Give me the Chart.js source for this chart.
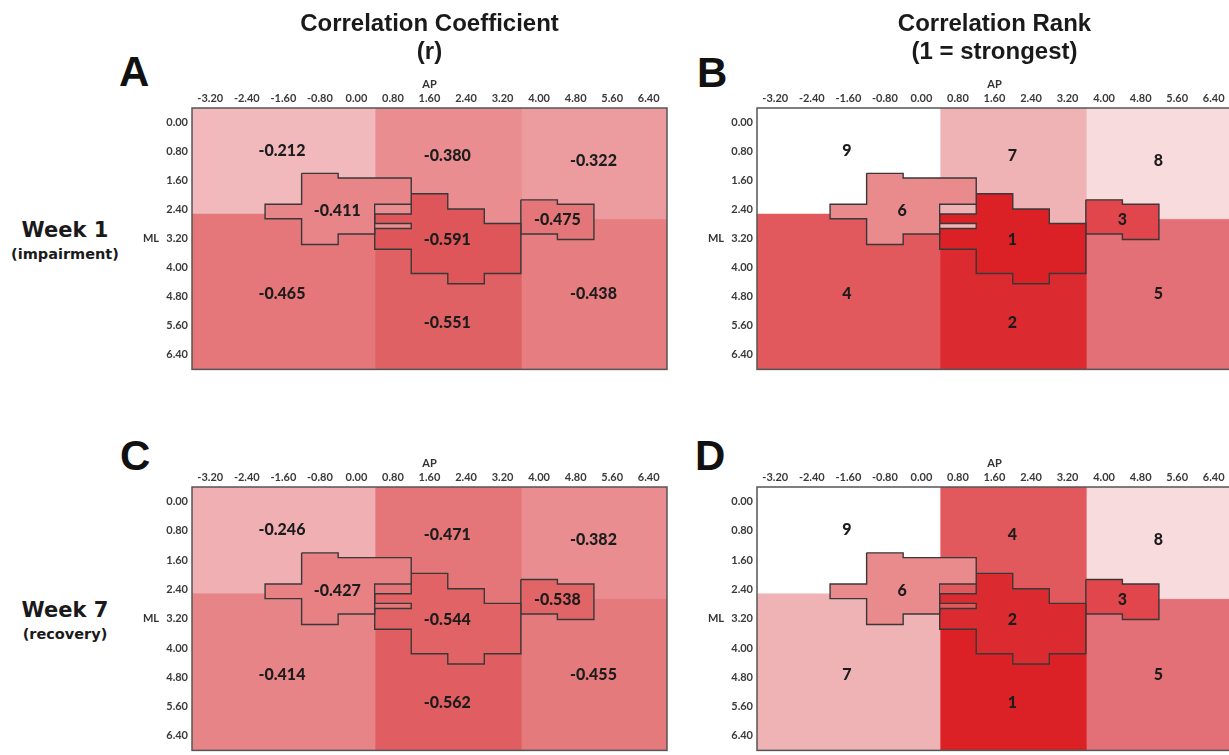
<!DOCTYPE html>
<html>
<head>
<meta charset="utf-8">
<script src="https://cdn.jsdelivr.net/npm/chart.js@4.4.1/dist/chart.umd.min.js"></script>
<style>
  html, body { margin: 0; padding: 0; background: #fff; }
  body { width: 1229px; height: 755px; overflow: hidden; position: relative; }
  canvas { position: absolute; }
  .letter { position: absolute; font: bold 42px "Liberation Sans", Arial, sans-serif; line-height: 42px; color: #111; }
  .row { position: absolute; left: 0; width: 130px; text-align: center; font-family: "DejaVu Sans", sans-serif; font-weight: bold; color: #1a1a1a; }
  .row.big { font-size: 21px; line-height: 21px; }
  .row.small { font-size: 14.5px; line-height: 14.5px; }
</style>
</head>
<body>
<div class="letter" style="left:119px; top:51px">A</div>
<div class="letter" style="left:697px; top:52px">B</div>
<div class="letter" style="left:120px; top:435px">C</div>
<div class="letter" style="left:695px; top:435px">D</div>
<div class="row big" style="top:220px">Week 1</div>
<div class="row small" style="top:247px">(impairment)</div>
<div class="row big" style="top:600px">Week 7</div>
<div class="row small" style="top:627px">(recovery)</div>

<canvas id="panelA" width="535" height="380" style="left:140px; top:0px"></canvas>
<canvas id="panelB" width="535" height="380" style="left:705px; top:0px"></canvas>
<canvas id="panelC" width="535" height="304" style="left:140px; top:457px"></canvas>
<canvas id="panelD" width="535" height="304" style="left:705px; top:457px"></canvas>

<script>
// axis ticks (mm)
const apTicks = [-3.2, -2.4, -1.6, -0.8, 0, 0.8, 1.6, 2.4, 3.2, 4.0, 4.8, 5.6, 6.4];
const mlTicks = [0, 0.8, 1.6, 2.4, 3.2, 4.0, 4.8, 5.6, 6.4];

// regions: 6 background blocks, then the 3 outlined clusters
const regionNames = ["top-left", "top-centre", "top-right", "bottom-left", "bottom-centre", "bottom-right",
  "left cluster", "centre cluster", "right cluster"];

const week1R = [-0.212, -0.380, -0.322, -0.465, -0.551, -0.438, -0.411, -0.591, -0.475];
const week1Rank = [9, 7, 8, 4, 2, 5, 6, 1, 3];
const week7R = [-0.246, -0.471, -0.382, -0.414, -0.562, -0.455, -0.427, -0.544, -0.538];
const week7Rank = [9, 4, 8, 7, 1, 5, 6, 2, 3];

// region outlines in AP / ML coordinates
const blocks = [
  [-3.6, 0.4, -0.4, 2.5], [0.4, 3.6, -0.4, 3.0], [3.6, 6.8, -0.4, 2.65],
  [-3.6, 0.4, 2.5, 6.8], [0.4, 3.6, 3.0, 6.8], [3.6, 6.8, 2.65, 6.8],
];
const clusters = [
  [[-1.2, 1.40], [-0.4, 1.40], [-0.4, 1.53], [1.2, 1.53], [1.2, 2.25], [0.4, 2.25], [0.4, 3.07],
   [-0.4, 3.07], [-0.4, 3.36], [-1.2, 3.36], [-1.2, 2.65], [-2.0, 2.65], [-2.0, 2.25], [-1.2, 2.25]],
  [[1.2, 1.96], [2.0, 1.96], [2.0, 2.38], [2.8, 2.38], [2.8, 2.78], [3.6, 2.78], [3.6, 4.16],
   [2.8, 4.16], [2.8, 4.44], [2.0, 4.44], [2.0, 4.16], [1.2, 4.16], [1.2, 3.49], [0.4, 3.49],
   [0.4, 2.92], [1.2, 2.92], [1.2, 2.78], [0.4, 2.78], [0.4, 2.52], [1.2, 2.52]],
  [[3.6, 2.13], [4.4, 2.13], [4.4, 2.25], [5.2, 2.25], [5.2, 3.22], [4.4, 3.22], [4.4, 3.07], [3.6, 3.07]],
];
const labelAt = [[-1.63, 0.78], [1.99, 0.92], [5.19, 1.05], [-1.63, 4.73], [1.99, 5.51], [5.19, 4.73],
  [-0.42, 2.43], [1.99, 3.24], [4.4, 2.69]];

const shapes = blocks.map(([x0, x1, y0, y1]) => [[x0, y0], [x1, y0], [x1, y1], [x0, y1]]).concat(clusters);

const rankColors = ["#db2126", "#dc2b30", "#e0464b", "#e1585d", "#e47077", "#e98a8d", "#f0b3b5", "#f8dbdc", "#ffffff"];
function rColor(r) {
  const t = Math.min(1, Math.max(0, (Math.abs(r) - 0.2) / 0.4));
  const lo = [242, 188, 191], hi = [222, 84, 87];
  const c = lo.map((v, i) => Math.round(v + (hi[i] - v) * t));
  return `rgb(${c[0]}, ${c[1]}, ${c[2]})`;
}
const rankColor = (k) => rankColors[k - 1];

const tickFont = { family: "Lato", size: 11, weight: "bold" };

const panelText = {
  id: "panelText",
  afterDatasetsDraw(chart, args, opts) {
    const { ctx, chartArea: a, scales: { x, y } } = chart;
    ctx.save();
    ctx.strokeStyle = "#555";
    ctx.lineWidth = 1.5;
    ctx.strokeRect(a.left, a.top, a.right - a.left, a.bottom - a.top);
    ctx.fillStyle = "#1c1c1c";
    ctx.font = "900 16px Lato";
    ctx.textAlign = "center";
    ctx.textBaseline = "middle";
    opts.values.forEach((v, i) => {
      ctx.fillText(opts.format(v), x.getPixelForValue(labelAt[i][0]), y.getPixelForValue(labelAt[i][1]));
    });
    ctx.font = "bold 11px Lato";
    ctx.fillStyle = "#333";
    ctx.textAlign = "right";
    ctx.fillText("ML", a.left - 33, y.getPixelForValue(3.2));
    ctx.restore();
  },
};

function makePanel(id, values, colorOf, format, title) {
  const datasets = shapes.map((s, i) => {
    const isCluster = i >= blocks.length;
    return {
      label: regionNames[i],
      data: s.concat([s[0]]).map(([x, y]) => ({ x, y })),
      showLine: true,
      fill: "shape",
      backgroundColor: colorOf(values[i]),
      borderColor: isCluster ? "#383838" : colorOf(values[i]),
      borderWidth: isCluster ? 1.4 : 0.8,
      borderJoinStyle: "miter",
      pointRadius: 0,
      tension: 0,
      order: isCluster ? 0 : 1,
    };
  });

  return new Chart(document.getElementById(id), {
    type: "scatter",
    data: { datasets },
    plugins: [panelText],
    options: {
      responsive: false,
      animation: false,
      events: [],
      layout: { padding: { left: 0, right: 8, top: 0, bottom: 4 } },
      plugins: {
        legend: { display: false },
        tooltip: { enabled: false },
        title: title ? {
          display: true,
          text: title,
          fullSize: false,
          color: "#1a1a1a",
          font: { family: "Liberation Sans", size: 24, weight: "bold", lineHeight: 1.1667 },
          padding: { top: 10, bottom: 12 },
        } : { display: false },
        panelText: { values, format },
      },
      scales: {
        x: {
          type: "linear",
          position: "top",
          min: -3.6,
          max: 6.8,
          afterBuildTicks: (s) => { s.ticks = apTicks.map((v) => ({ value: v })); },
          afterFit: (s) => { s.height = 30; },
          grid: { display: false, drawTicks: false },
          border: { display: false },
          ticks: { font: tickFont, color: "#3a3a3a", padding: 3, autoSkip: false, maxRotation: 0,
            callback: (v) => v.toFixed(2) },
          title: { display: true, text: "AP", font: tickFont, color: "#333", padding: 0 },
        },
        y: {
          type: "linear",
          position: "left",
          reverse: true,
          min: -0.4,
          max: 6.8,
          afterBuildTicks: (s) => { s.ticks = mlTicks.map((v) => ({ value: v })); },
          afterFit: (s) => { s.width = 52; },
          grid: { display: false, drawTicks: false },
          border: { display: false },
          ticks: { font: tickFont, color: "#3a3a3a", padding: 4, autoSkip: false,
            callback: (v) => v.toFixed(2) },
        },
      },
    },
  });
}

makePanel("panelA", week1R, rColor, (v) => v.toFixed(3), ["Correlation Coefficient", "(r)"]);
makePanel("panelB", week1Rank, rankColor, String, ["Correlation Rank", "(1 = strongest)"]);
makePanel("panelC", week7R, rColor, (v) => v.toFixed(3), null);
makePanel("panelD", week7Rank, rankColor, String, null);
</script>
</body>
</html>
